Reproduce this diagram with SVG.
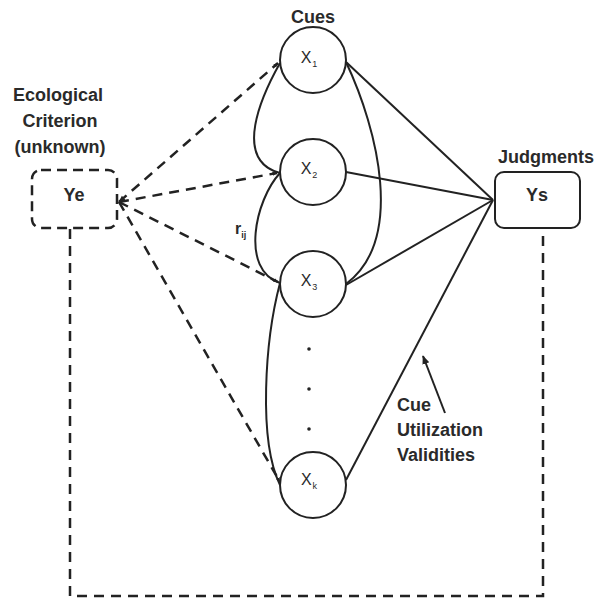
<svg xmlns="http://www.w3.org/2000/svg" width="599" height="602" viewBox="0 0 599 602">
<defs>
<marker id="ah" viewBox="0 0 10 10" refX="9" refY="5" markerWidth="7" markerHeight="7" markerUnits="userSpaceOnUse" orient="auto-start-reverse">
<path d="M0,1 L10,5 L0,9 Z" fill="#222"/>
</marker>
<marker id="ahs" viewBox="0 0 10 10" refX="9" refY="5" markerWidth="5" markerHeight="5" markerUnits="userSpaceOnUse" orient="auto">
<path d="M0,1 L10,5 L0,9 Z" fill="#222"/>
</marker>
<marker id="ah2" viewBox="0 0 10 10" refX="9" refY="5" markerWidth="9" markerHeight="9" markerUnits="userSpaceOnUse" orient="auto">
<path d="M0,1 L10,5 L0,9 Z" fill="#222"/>
</marker>
</defs>
<style>
.t{font-family:"Liberation Sans",Arial,sans-serif;fill:#2a2a2a}
.b{font-weight:bold;font-size:18px}
.x{font-size:16px}
.s{font-size:9px}
.solid{fill:none;stroke:#222;stroke-width:2}
.dash{fill:none;stroke:#222;stroke-width:2.5;stroke-dasharray:10 7}
.node{fill:#fff;stroke:#222;stroke-width:2}
</style>
<rect width="599" height="602" fill="#fff"/>
<g id="connectors">
<path class="dash" d="M70,229 V596 H543 V229"/>
<path class="dash" d="M119,202 L278,63" marker-start="url(#ah)" marker-end="url(#ahs)"/>
<path class="dash" d="M119,202 L277,173" marker-end="url(#ahs)"/>
<path class="dash" d="M119,202 L278,282" marker-end="url(#ahs)"/>
<path class="dash" d="M119,202 L280,482" marker-end="url(#ahs)"/>
<path class="solid" d="M346,62 L493,200"/>
<path class="solid" d="M346,172 L493,200"/>
<path class="solid" d="M346,285 L493,200"/>
<path class="solid" d="M346,480 L493,200"/>
<path class="solid" d="M346,62 C378,130 405,240 346,284"/>
<path class="solid" d="M280,63 C262,95 232,160 280,173"/>
<path class="solid" d="M280,173 C255,200 240,270 280,283"/>
<path class="solid" d="M280,283 C265,340 258,440 280,485"/>
<path class="solid" d="M445,413 L423,356" marker-end="url(#ah2)"/>
</g>
<g id="ye">
<rect x="32" y="170" width="85" height="58" rx="9" fill="#fff" class="dash" style="stroke-dasharray:10 6"/>
<text class="t b" x="74" y="201" text-anchor="middle">Ye</text>
<text class="t b" x="58" y="101" text-anchor="middle">Ecological</text>
<text class="t b" x="60" y="127" text-anchor="middle">Criterion</text>
<text class="t b" x="60" y="153" text-anchor="middle">(unknown)</text>
</g>
<g id="ys">
<rect x="495" y="172" width="85" height="56" rx="9" class="node"/>
<text class="t b" x="537" y="201" text-anchor="middle">Ys</text>
<text class="t b" x="546" y="163" text-anchor="middle">Judgments</text>
</g>
<g id="x1">
<circle cx="313" cy="60" r="33" class="node"/>
<text class="t x" x="309" y="63" text-anchor="middle">X<tspan class="s" dx="1" dy="4">1</tspan></text>
<text class="t b" x="313" y="23" text-anchor="middle">Cues</text>
</g>
<g id="x2">
<circle cx="313" cy="172" r="33" class="node"/>
<text class="t x" x="309" y="174" text-anchor="middle">X<tspan class="s" dx="1" dy="4">2</tspan></text>
</g>
<g id="x3">
<circle cx="313" cy="284" r="33" class="node"/>
<text class="t x" x="309" y="286" text-anchor="middle">X<tspan class="s" dx="1" dy="4">3</tspan></text>
</g>
<g id="xk">
<circle cx="313" cy="485" r="33" class="node"/>
<text class="t x" x="309" y="485" text-anchor="middle">X<tspan class="s" dx="1" dy="4">k</tspan></text>
</g>
<g id="dots" fill="#222">
<circle cx="309" cy="349" r="1.8"/>
<circle cx="309" cy="389" r="1.8"/>
<circle cx="309" cy="429" r="1.8"/>
</g>
<g id="labels">
<text class="t" x="235" y="234" font-size="16" font-weight="bold">r<tspan class="s" dy="4">ij</tspan></text>
<text class="t b" x="397" y="411">Cue</text>
<text class="t b" x="397" y="436">Utilization</text>
<text class="t b" x="397" y="461">Validities</text>
</g>
</svg>
